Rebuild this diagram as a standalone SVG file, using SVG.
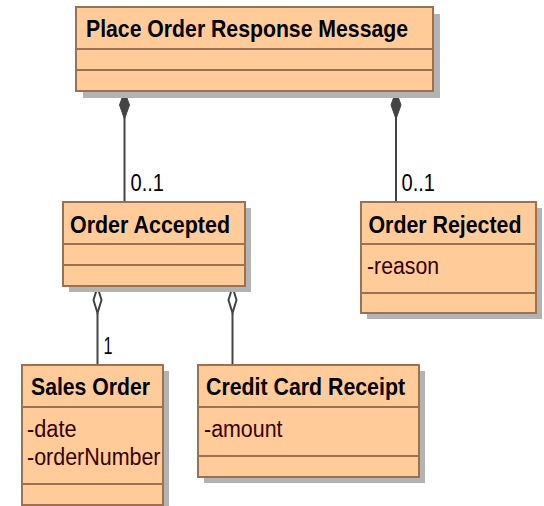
<svg xmlns="http://www.w3.org/2000/svg" width="544" height="506" viewBox="0 0 544 506">
<style>
.shadow{fill:#b3b3b3}
.box{fill:#ffcc99;stroke:#9c7052;stroke-width:2}
.sep{stroke:#9c7052;stroke-width:2}
.title{font-family:"Liberation Sans",Arial,sans-serif;font-weight:bold;font-size:23px;fill:#000}
.attr{font-family:"Liberation Sans",Arial,sans-serif;font-size:23px;fill:#330000}
.lbl{font-family:"Liberation Sans",Arial,sans-serif;font-size:23px;fill:#000}
.line{stroke:#444;stroke-width:2;fill:none}
.comp{fill:#444;stroke:#444;stroke-width:1}
.agg{fill:#fff;stroke:#444;stroke-width:2}
</style>
<rect width="544" height="506" fill="#fff"/>
<g id="connectors">
<line class="line" x1="124.5" y1="104" x2="124.5" y2="202"/>
<path class="comp" d="M124.5,91 L129.5,105 L124.5,119 L119.5,105 Z"/>
<text class="lbl" x="130.5" y="191" textLength="33.5" lengthAdjust="spacingAndGlyphs">0..1</text>
<line class="line" x1="396" y1="104" x2="396" y2="202"/>
<path class="comp" d="M396,91 L401,105 L396,119 L391,105 Z"/>
<text class="lbl" x="401.5" y="191" textLength="33.5" lengthAdjust="spacingAndGlyphs">0..1</text>
<line class="line" x1="97.5" y1="313" x2="97.5" y2="365"/>
<path class="agg" d="M97.5,287 L101.5,300 L97.5,313 L93.5,300 Z"/>
<text class="lbl" x="103.5" y="354" textLength="9" lengthAdjust="spacingAndGlyphs">1</text>
<line class="line" x1="232.5" y1="313" x2="232.5" y2="365"/>
<path class="agg" d="M232.5,287 L236.5,300 L232.5,313 L228.5,300 Z"/>
</g>
<g id="place-order-response-message">
<rect class="shadow" x="83" y="14" width="357" height="84"/>
<rect class="box" x="76" y="7" width="357" height="84"/>
<line class="sep" x1="76" y1="49" x2="433" y2="49"/>
<line class="sep" x1="76" y1="70" x2="433" y2="70"/>
<text class="title" x="86" y="37" textLength="322" lengthAdjust="spacingAndGlyphs">Place Order Response Message</text>
</g>
<g id="order-accepted">
<rect class="shadow" x="69" y="208" width="182" height="84"/>
<rect class="box" x="63" y="202" width="182" height="84"/>
<line class="sep" x1="63" y1="244" x2="245" y2="244"/>
<line class="sep" x1="63" y1="265" x2="245" y2="265"/>
<text class="title" x="70" y="233" textLength="160" lengthAdjust="spacingAndGlyphs">Order Accepted</text>
</g>
<g id="order-rejected">
<rect class="shadow" x="367" y="208" width="175" height="111"/>
<rect class="box" x="361" y="202" width="175" height="111"/>
<line class="sep" x1="361" y1="244" x2="536" y2="244"/>
<line class="sep" x1="361" y1="293" x2="536" y2="293"/>
<text class="title" x="368.5" y="233" textLength="153" lengthAdjust="spacingAndGlyphs">Order Rejected</text>
<text class="attr" x="367" y="274" textLength="72" lengthAdjust="spacingAndGlyphs">-reason</text>
</g>
<g id="sales-order">
<rect class="shadow" x="28" y="371" width="141" height="140"/>
<rect class="box" x="22" y="365" width="141" height="140"/>
<line class="sep" x1="22" y1="407" x2="163" y2="407"/>
<line class="sep" x1="22" y1="484" x2="163" y2="484"/>
<text class="title" x="31" y="395" textLength="119" lengthAdjust="spacingAndGlyphs">Sales Order</text>
<text class="attr" x="27" y="437" textLength="49.5" lengthAdjust="spacingAndGlyphs">-date</text>
<text class="attr" x="27" y="465" textLength="133.5" lengthAdjust="spacingAndGlyphs">-orderNumber</text>
</g>
<g id="credit-card-receipt">
<rect class="shadow" x="204" y="371" width="221" height="112"/>
<rect class="box" x="198" y="365" width="221" height="112"/>
<line class="sep" x1="198" y1="407" x2="419" y2="407"/>
<line class="sep" x1="198" y1="456" x2="419" y2="456"/>
<text class="title" x="206" y="395" textLength="199" lengthAdjust="spacingAndGlyphs">Credit Card Receipt</text>
<text class="attr" x="204" y="437" textLength="78.5" lengthAdjust="spacingAndGlyphs">-amount</text>
</g>
</svg>
